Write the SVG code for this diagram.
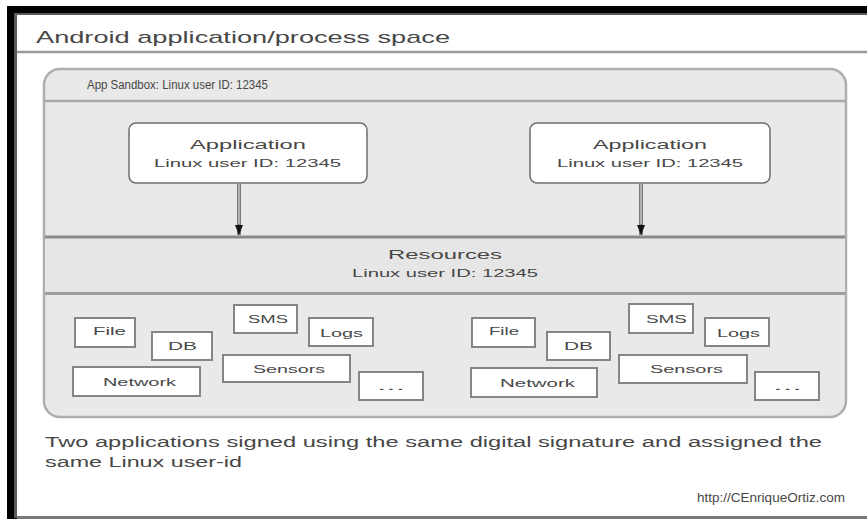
<svg xmlns="http://www.w3.org/2000/svg" width="867" height="519" viewBox="0 0 867 519">
<style>
text{font-family:"Liberation Sans",Arial,sans-serif;fill:#474747}
.res{fill:#fff;stroke:#858585;stroke-width:2}
.rt{font-size:11px;text-anchor:middle}
.app{fill:#fff;stroke:#6e6e6e;stroke-width:1.5}
</style>
<defs>
<marker id="ah" markerWidth="12" markerHeight="12" refX="10" refY="5" orient="auto" markerUnits="userSpaceOnUse">
<path d="M0,1 L10,5 L0,9 Z" fill="#111"/>
</marker>
</defs>
<g id="frame">
<rect x="7" y="6" width="870" height="520" fill="#000"/>
<rect x="14" y="13" width="860" height="505" fill="#5a5a5a"/>
<rect x="17" y="15" width="860" height="501" fill="#fff"/>
<rect x="17" y="516" width="860" height="3" fill="#7a7a7a"/>
<line x1="17" y1="52" x2="867" y2="52" stroke="#9a9a9a" stroke-width="2.5"/>
<text x="36" y="43" font-size="17" textLength="414" lengthAdjust="spacingAndGlyphs">Android application/process space</text>
</g>
<g id="sandbox">
<rect x="44" y="69" width="802" height="348" rx="16" fill="#e9e9e9" stroke="#aeaeae" stroke-width="2.5"/>
<line x1="45" y1="101" x2="845" y2="101" stroke="#a8a8a8" stroke-width="2.5"/>
<text x="87" y="89" font-size="12" textLength="181" lengthAdjust="spacingAndGlyphs">App Sandbox: Linux user ID: 12345</text>
</g>
<g id="resources">
<rect x="45" y="237" width="800" height="56" fill="#e6e6e6"/>
<line x1="45" y1="237" x2="845" y2="237" stroke="#8a8a8a" stroke-width="3"/>
<line x1="45" y1="293.5" x2="845" y2="293.5" stroke="#9c9c9c" stroke-width="3"/>
<text x="445" y="259" font-size="13.5" text-anchor="middle" textLength="114" lengthAdjust="spacingAndGlyphs">Resources</text>
<text x="445" y="277" font-size="11.5" text-anchor="middle" textLength="186" lengthAdjust="spacingAndGlyphs">Linux user ID: 12345</text>
</g>
<g id="app1">
<rect class="app" x="129" y="123" width="238" height="60" rx="7"/>
<text x="248" y="149" font-size="13.5" text-anchor="middle" textLength="116" lengthAdjust="spacingAndGlyphs">Application</text>
<text x="247.5" y="167" font-size="11.5" text-anchor="middle" textLength="187" lengthAdjust="spacingAndGlyphs">Linux user ID: 12345</text>
</g>
<g id="app2">
<rect class="app" x="530" y="123" width="240" height="60" rx="7"/>
<text x="650" y="149" font-size="13.5" text-anchor="middle" textLength="114" lengthAdjust="spacingAndGlyphs">Application</text>
<text x="650" y="167" font-size="11.5" text-anchor="middle" textLength="186" lengthAdjust="spacingAndGlyphs">Linux user ID: 12345</text>
</g>
<g id="connectors">
<line x1="239" y1="184" x2="239" y2="235" stroke="#7a7a7a" stroke-width="4" marker-end="url(#ah)"/>
<line x1="239" y1="184" x2="239" y2="224" stroke="#c4c4c4" stroke-width="1.5"/>
<line x1="641" y1="184" x2="641" y2="235" stroke="#7a7a7a" stroke-width="4" marker-end="url(#ah)"/>
<line x1="641" y1="184" x2="641" y2="224" stroke="#c4c4c4" stroke-width="1.5"/>
</g>
<g id="res-left">
<g id="file1"><rect class="res" x="75" y="318" width="60" height="29" stroke="#6a6a6a"/><text class="rt" x="109.5" y="335" textLength="33" lengthAdjust="spacingAndGlyphs">File</text></g>
<g id="db1"><rect class="res" x="152" y="332" width="60" height="28" stroke="#9a9a9a"/><text class="rt" x="182.5" y="350" textLength="29" lengthAdjust="spacingAndGlyphs">DB</text></g>
<g id="sms1"><rect class="res" x="234" y="305" width="63" height="28" stroke="#6a6a6a"/><text class="rt" x="268" y="323" textLength="40" lengthAdjust="spacingAndGlyphs">SMS</text></g>
<g id="logs1"><rect class="res" x="309" y="318" width="64" height="28" stroke="#6a6a6a"/><text class="rt" x="341.5" y="337" textLength="43" lengthAdjust="spacingAndGlyphs">Logs</text></g>
<g id="network1"><rect class="res" x="73" y="367" width="127" height="29" stroke="#8a8a8a"/><text class="rt" x="139.5" y="386" textLength="73" lengthAdjust="spacingAndGlyphs">Network</text></g>
<g id="sensors1"><rect class="res" x="223" y="355" width="127" height="27" stroke="#6a6a6a"/><text class="rt" x="289" y="373" textLength="72" lengthAdjust="spacingAndGlyphs">Sensors</text></g>
<g id="more1"><rect class="res" x="359" y="372" width="64" height="28" stroke="#7a7a7a"/><text class="rt" x="391" y="390" fill="#888" textLength="28" lengthAdjust="spacingAndGlyphs">...</text></g>
</g>
<g id="res-right">
<g id="file2"><rect class="res" x="472" y="318" width="63" height="29" stroke="#7a7a7a"/><text class="rt" x="504" y="335" textLength="30" lengthAdjust="spacingAndGlyphs">File</text></g>
<g id="db2"><rect class="res" x="547" y="332" width="63" height="28" stroke="#9a9a9a"/><text class="rt" x="578.5" y="350" textLength="29" lengthAdjust="spacingAndGlyphs">DB</text></g>
<g id="sms2"><rect class="res" x="629" y="304" width="64" height="29" stroke="#6a6a6a"/><text class="rt" x="666.5" y="323" textLength="41" lengthAdjust="spacingAndGlyphs">SMS</text></g>
<g id="logs2"><rect class="res" x="705" y="318" width="64" height="28" stroke="#6a6a6a"/><text class="rt" x="738.5" y="337" textLength="43" lengthAdjust="spacingAndGlyphs">Logs</text></g>
<g id="network2"><rect class="res" x="471" y="368" width="126" height="29" stroke="#6a6a6a"/><text class="rt" x="537.5" y="387" textLength="75" lengthAdjust="spacingAndGlyphs">Network</text></g>
<g id="sensors2"><rect class="res" x="619" y="355" width="128" height="28" stroke="#6a6a6a"/><text class="rt" x="686.5" y="373" textLength="73" lengthAdjust="spacingAndGlyphs">Sensors</text></g>
<g id="more2"><rect class="res" x="755" y="372" width="64" height="28" stroke="#7a7a7a"/><text class="rt" x="787.5" y="390" fill="#666" textLength="29" lengthAdjust="spacingAndGlyphs">...</text></g>
</g>
<g id="caption">
<text x="45" y="447" font-size="14" textLength="777" lengthAdjust="spacingAndGlyphs">Two applications signed using the same digital signature and assigned the</text>
<text x="45" y="467" font-size="14" textLength="197" lengthAdjust="spacingAndGlyphs">same Linux user-id</text>
<text x="697" y="502" font-size="13" textLength="148" lengthAdjust="spacingAndGlyphs">http://CEnriqueOrtiz.com</text>
</g>
</svg>
